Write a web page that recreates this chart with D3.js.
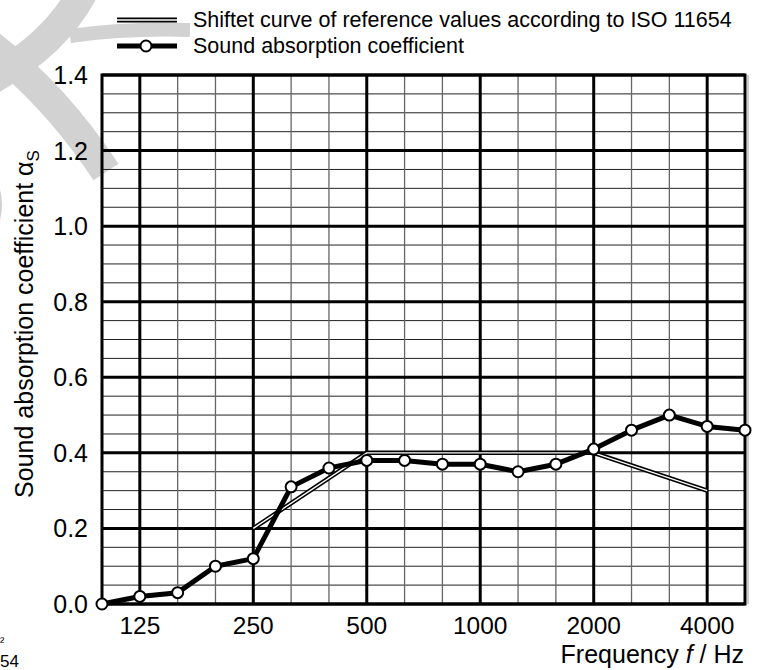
<!DOCTYPE html>
<html>
<head>
<meta charset="utf-8">
<script src="https://cdn.jsdelivr.net/npm/d3@7"></script>
<style>
  body { margin: 0; background: #fff; }
  svg { display: block; font-family: "Liberation Sans", Arial, sans-serif; }
</style>
</head>
<body>
<div id="chart"></div>
<script>
// third-octave band centre frequencies
const freqs = [100, 125, 160, 200, 250, 315, 400, 500, 630, 800, 1000, 1250, 1600, 2000, 2500, 3150, 4000, 5000];
const freqTicks = [125, 250, 500, 1000, 2000, 4000];
const alphaS = [0.00, 0.02, 0.03, 0.10, 0.12, 0.31, 0.36, 0.38, 0.38, 0.37, 0.37, 0.35, 0.37, 0.41, 0.46, 0.50, 0.47, 0.46];
const refFreqs = [250, 500, 1000, 2000, 4000];
const refValues = [0.20, 0.40, 0.40, 0.40, 0.30];
const yTicks = [0.0, 0.2, 0.4, 0.6, 0.8, 1.0, 1.2, 1.4];

const W = 761, H = 670;
const plot = { left: 102, right: 745, top: 75, bottom: 604 };

const svg = d3.select("#chart").append("svg")
    .attr("width", W)
    .attr("height", H);

// faint background watermark
const wm = svg.append("g")
    .attr("fill", "none")
    .attr("stroke", "#d2d2d2");
wm.append("path").attr("d", "M 84 -10 Q 55 45 -10 80").attr("stroke-width", 30);
wm.append("path").attr("d", "M 70 36 Q 130 28 190 30").attr("stroke-width", 14);
wm.append("path").attr("d", "M -10 45 Q 55 95 106 172").attr("stroke-width", 30);
svg.append("circle")
    .attr("cx", -60).attr("cy", 205).attr("r", 62)
    .attr("fill", "#d2d2d2");

const x = d3.scalePoint()
    .domain(freqs)
    .range([plot.left, plot.right]);

const y = d3.scaleLinear()
    .domain([0, 1.4])
    .range([plot.bottom, plot.top]);

const grid = svg.append("g");

// horizontal minor lines every 0.05
const minorY = d3.range(1, 28).map(i => i * 0.05).filter(v => Math.abs(v / 0.2 - Math.round(v / 0.2)) > 1e-6);
grid.selectAll("line.hminor")
    .data(minorY)
    .join("line")
    .attr("x1", plot.left).attr("x2", plot.right)
    .attr("y1", d => y(d)).attr("y2", d => y(d))
    .attr("stroke", "#222")
    .attr("stroke-width", 1);

// vertical minor lines
grid.selectAll("line.vminor")
    .data(freqs.filter(f => !freqTicks.includes(f)))
    .join("line")
    .attr("x1", d => x(d)).attr("x2", d => x(d))
    .attr("y1", plot.top).attr("y2", plot.bottom)
    .attr("stroke", "#666")
    .attr("stroke-width", 1.3);

// major horizontal
grid.selectAll("line.hmajor")
    .data(yTicks)
    .join("line")
    .attr("x1", plot.left).attr("x2", plot.right)
    .attr("y1", d => y(d)).attr("y2", d => y(d))
    .attr("stroke", "#000")
    .attr("stroke-width", 3);

// major vertical
grid.selectAll("line.vmajor")
    .data(freqTicks)
    .join("line")
    .attr("x1", d => x(d)).attr("x2", d => x(d))
    .attr("y1", plot.top).attr("y2", plot.bottom)
    .attr("stroke", "#000")
    .attr("stroke-width", 3);

// frame, with the faint shadow on the right
svg.append("line")
    .attr("x1", plot.right + 3).attr("x2", plot.right + 3)
    .attr("y1", plot.top).attr("y2", plot.bottom)
    .attr("stroke", "#ccc").attr("stroke-width", 2);
svg.append("rect")
    .attr("x", plot.left).attr("y", plot.top)
    .attr("width", plot.right - plot.left)
    .attr("height", plot.bottom - plot.top)
    .attr("fill", "none")
    .attr("stroke", "#000")
    .attr("stroke-width", 3);

// axis labels
svg.append("g").selectAll("text")
    .data(yTicks)
    .join("text")
    .attr("x", 88)
    .attr("y", d => y(d))
    .attr("dy", "0.36em")
    .attr("text-anchor", "end")
    .attr("font-size", 25)
    .text(d => d.toFixed(1));

svg.append("g").selectAll("text")
    .data(freqTicks)
    .join("text")
    .attr("x", d => x(d))
    .attr("y", 634)
    .attr("text-anchor", "middle")
    .attr("font-size", 24.5)
    .text(d => d);

const yTitle = svg.append("text")
    .attr("transform", `translate(33, 324) rotate(-90)`)
    .attr("text-anchor", "middle")
    .attr("font-size", 25);
yTitle.append("tspan").text("Sound absorption coefficient α");
yTitle.append("tspan").attr("font-size", 17).attr("dy", 6).text("S");

const xTitle = svg.append("text")
    .attr("x", 744)
    .attr("y", 663)
    .attr("text-anchor", "end")
    .attr("font-size", 25);
xTitle.append("tspan").text("Frequency ");
xTitle.append("tspan").attr("font-style", "italic").text("f");
xTitle.append("tspan").text(" / Hz");

// text fragments at the bottom left
svg.append("text").attr("x", 0).attr("y", 646).attr("font-size", 13).text("²");
svg.append("text").attr("x", 0).attr("y", 667).attr("font-size", 17).text("54");

// shifted reference curve (double line)
const refData = refFreqs.map((f, i) => ({ f, v: refValues[i] }));
const refLine = d3.line().x(d => x(d.f)).y(d => y(d.v));
svg.append("path")
    .datum(refData)
    .attr("d", refLine)
    .attr("fill", "none")
    .attr("stroke", "#000")
    .attr("stroke-width", 4.5);
svg.append("path")
    .datum(refData)
    .attr("d", refLine)
    .attr("fill", "none")
    .attr("stroke", "#fff")
    .attr("stroke-width", 1.4);

// measured curve
const meas = freqs.map((f, i) => ({ f, v: alphaS[i] }));
svg.append("path")
    .datum(meas)
    .attr("d", d3.line().x(d => x(d.f)).y(d => y(d.v)))
    .attr("fill", "none")
    .attr("stroke", "#000")
    .attr("stroke-width", 5)
    .attr("stroke-linejoin", "round");
svg.append("g").selectAll("circle")
    .data(meas)
    .join("circle")
    .attr("cx", d => x(d.f))
    .attr("cy", d => y(d.v))
    .attr("r", 5.5)
    .attr("fill", "#fff")
    .attr("stroke", "#000")
    .attr("stroke-width", 2);

// legend
const lg = svg.append("g");
lg.append("line").attr("x1", 117).attr("x2", 177).attr("y1", 20).attr("y2", 20)
    .attr("stroke", "#000").attr("stroke-width", 5);
lg.append("line").attr("x1", 117).attr("x2", 177).attr("y1", 20).attr("y2", 20)
    .attr("stroke", "#fff").attr("stroke-width", 1.4);
lg.append("line").attr("x1", 117).attr("x2", 177).attr("y1", 46).attr("y2", 46)
    .attr("stroke", "#000").attr("stroke-width", 5);
lg.append("circle").attr("cx", 146).attr("cy", 46).attr("r", 5.5)
    .attr("fill", "#fff").attr("stroke", "#000").attr("stroke-width", 2);
lg.append("text").attr("x", 193).attr("y", 27).attr("font-size", 21.5)
    .text("Shiftet curve of reference values according to ISO 11654");
lg.append("text").attr("x", 193).attr("y", 53).attr("font-size", 21.5)
    .text("Sound absorption coefficient");
</script>
</body>
</html>
